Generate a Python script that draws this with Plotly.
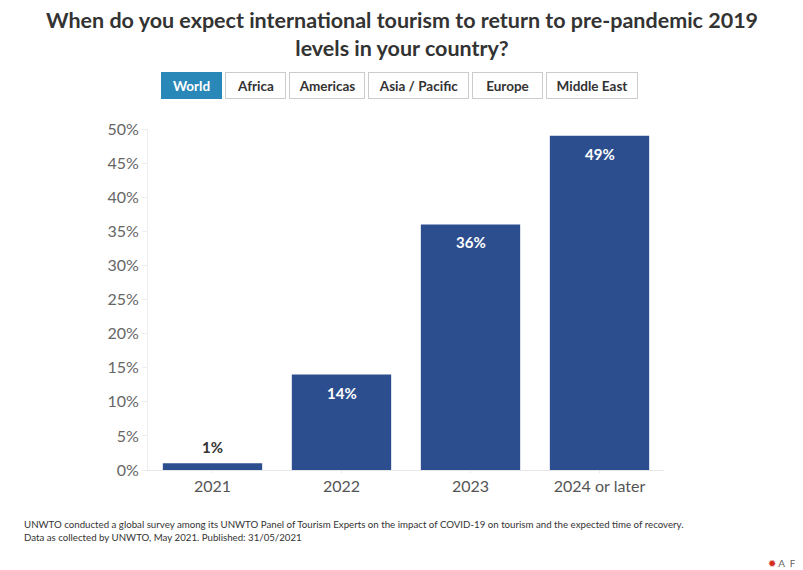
import plotly.graph_objects as go

# data
years = ["2021", "2022", "2023", "2024 or later"]
share = [1, 14, 36, 49]
y_ticks = [0, 5, 10, 15, 20, 25, 30, 35, 40, 45, 50]
regions = ["World", "Africa", "Americas", "Asia / Pacific", "Europe", "Middle East"]

title = ("When do you expect international tourism to return to pre-pandemic 2019"
         "<br>levels in your country?")
note = ("UNWTO conducted a global survey among its UNWTO Panel of Tourism Experts on the impact "
        "of COVID-19 on tourism and the expected time of recovery."
        "<br>Data as collected by UNWTO, May 2021. Published: 31/05/2021")

# page body adds an 8px margin, so work in page pixels and shift back
OFF = 8
W, H = 803, 570
L, R = 148 - OFF, 803 - (664 - OFF)
T, B = 129 - OFF, 570 - (470 - OFF)
pw, ph = W - L - R, H - T - B


def px_x(x):
    return (x - OFF - L) / pw


def px_y(y):
    return (H - B - (y - OFF)) / ph


bar_color = "#2d4e8e"
font = "Lato, 'Open Sans', sans-serif"

fig = go.Figure(go.Bar(
    x=years, y=share, marker=dict(color=bar_color, line=dict(width=0)),
    hoverinfo="skip",
))

# value labels: white inside for tall bars, dark above for tiny one
# (category index used for x so numeric-looking names are not read as indices)
for i, v in enumerate(share):
    inside = v > 5
    fig.add_annotation(
        x=i, y=v, text=f"<b>{v}%</b>", showarrow=False,
        yshift=-18 if inside else 16,
        font=dict(size=15, color="white" if inside else "#333", family=font),
    )

# region buttons drawn as boxed annotations
btn_left = [162, 226, 290, 369, 473, 547]
btn_right = [221, 285, 364, 468, 542, 637]
for i, (name, a, b) in enumerate(zip(regions, btn_left, btn_right)):
    active = i == 0
    fig.add_annotation(
        xref="paper", yref="paper", x=px_x((a + b) / 2), y=px_y(85.5),
        xanchor="center", yanchor="middle", showarrow=False,
        text=f"<b>{name}</b>", width=b - a - 2, height=23, borderpad=1,
        bgcolor="#2a88b8" if active else "white",
        bordercolor="#2a88b8" if active else "#cccccc", borderwidth=1,
        font=dict(size=13.5, color="white" if active else "#333", family=font),
    )

fig.add_annotation(
    xref="paper", yref="paper", x=px_x(402), y=px_y(34), xanchor="center", yanchor="middle",
    showarrow=False, text=f"<b>{title}</b>",
    font=dict(size=21.5, color="#333", family=font),
)
fig.add_annotation(
    xref="paper", yref="paper", x=px_x(22), y=px_y(516), xanchor="left", yanchor="top",
    align="left", showarrow=False, text=note,
    font=dict(size=9.7, color="#333", family=font),
)
fig.add_annotation(
    xref="paper", yref="paper", x=px_x(798), y=px_y(563), xanchor="right", yanchor="middle",
    showarrow=False, text="<span style='color:#d52b1e'>✹</span> A  F",
    font=dict(size=10, color="#666", family=font),
)

fig.update_layout(
    width=W, height=H,
    margin=dict(l=L, r=R, t=T, b=B),
    paper_bgcolor="white", plot_bgcolor="white",
    bargap=0.23, showlegend=False,
    font=dict(family=font),
)
fig.update_yaxes(
    range=[0, 50], tickvals=y_ticks, ticktext=[f"{v}%" for v in y_ticks],
    showgrid=False, zeroline=False, showline=True, linecolor="#eeeeee", linewidth=1,
    ticks="outside", ticklen=5, tickcolor="#eeeeee",
    tickfont=dict(size=16, color="#666", family=font),
)
fig.update_xaxes(
    type="category", range=[-0.5, len(years) - 0.5],
    showgrid=False, showline=True, linecolor="#e6e6e6", linewidth=1,
    ticks="outside", ticklen=2, tickcolor="#e6e6e6",
    tickfont=dict(size=16, color="#555", family=font),
)

fig.write_html("out.html")
